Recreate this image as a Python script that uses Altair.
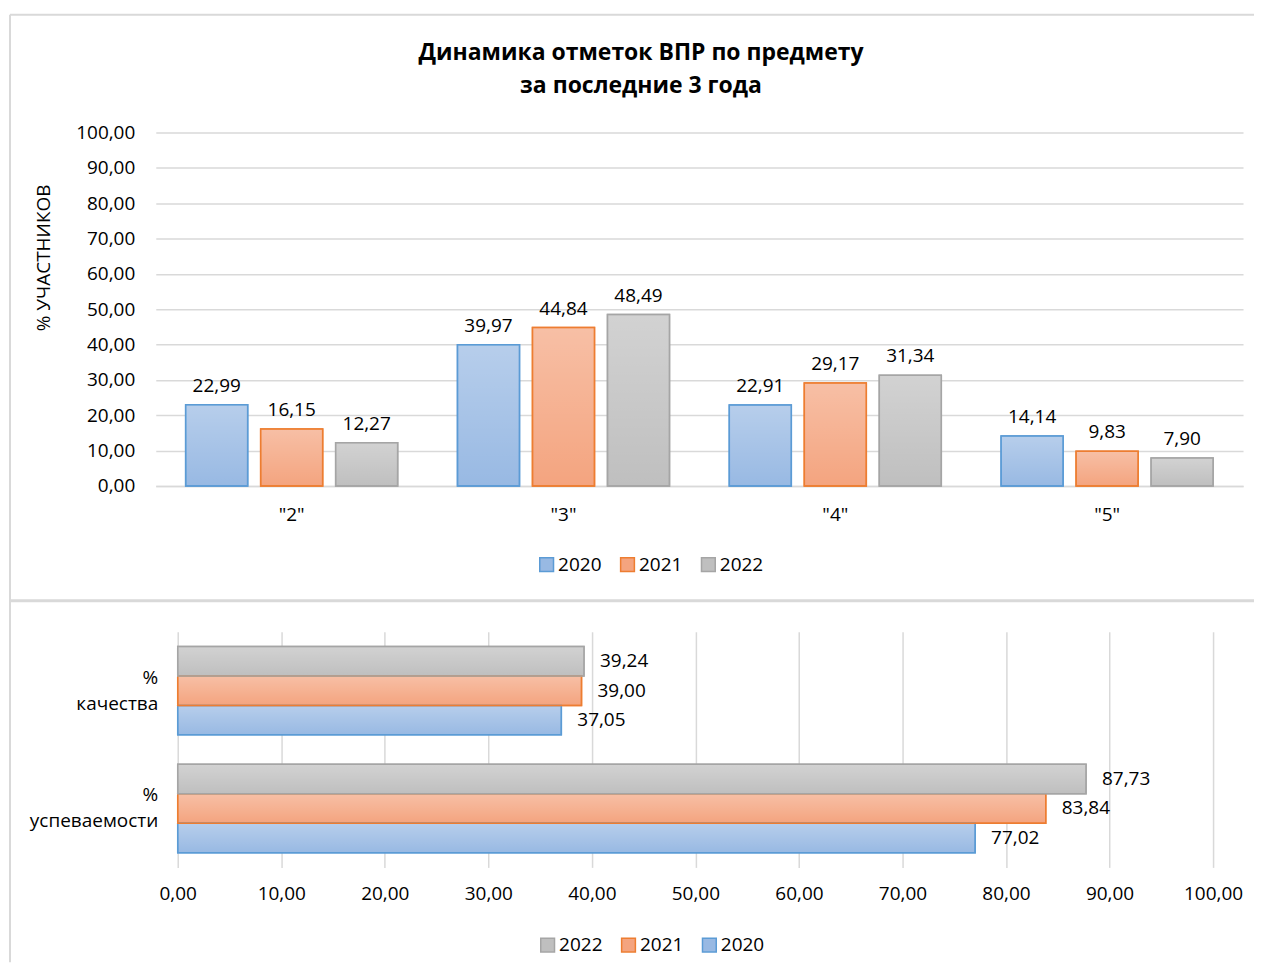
import altair as alt
import pandas as pd

# ---- data ----
grades = ['"2"', '"3"', '"4"', '"5"']
years = ['2020', '2021', '2022']
v2020 = [22.99, 39.97, 22.91, 14.14]
v2021 = [16.15, 44.84, 29.17, 9.83]
v2022 = [12.27, 48.49, 31.34, 7.90]

metrics = ['% качества', '% успеваемости']
m2020 = [37.05, 77.02]
m2021 = [39.00, 83.84]
m2022 = [39.24, 87.73]

title_lines = ['Динамика отметок ВПР по предмету', 'за последние 3 года']
y_title = '% УЧАСТНИКОВ'

fill_map = {'2020': '#98b9e3', '2021': '#f4a47f', '2022': '#bfbfbf'}
stroke_map = {'2020': '#5b9bd5', '2021': '#ed7d31', '2022': '#a5a5a5'}

FONT = 'Open Sans'
GRID = '#d9d9d9'
FS = 19


def fmt(v):
    return f"{v:.2f}".replace('.', ',')


rows = []
for yr, vals in zip(years, [v2020, v2021, v2022]):
    for g, v in zip(grades, vals):
        rows.append({'grade': g, 'year': yr, 'value': v, 'label': fmt(v)})
top_df = pd.DataFrame(rows)

rows = []
for yr, vals in zip(years, [m2020, m2021, m2022]):
    for m, v in zip(metrics, vals):
        rows.append({'metric': m, 'year': yr, 'value': v, 'label': fmt(v)})
bot_df = pd.DataFrame(rows)

label_expr = "replace(format(datum.value, '.2f'), '.', ',')"

sheen = alt.Gradient(
    gradient='linear', x1=0, y1=0, x2=0, y2=1,
    stops=[alt.GradientStop(color='rgba(255,255,255,0.30)', offset=0),
           alt.GradientStop(color='rgba(255,255,255,0)', offset=1)])


def legend(x, y):
    return alt.Legend(title=None, orient='none', legendX=x, legendY=y,
                      direction='horizontal', symbolType='square',
                      symbolSize=190, symbolStrokeWidth=1.5,
                      labelFontSize=FS, labelFont=FONT, labelColor='#000',
                      labelOffset=2, columnPadding=15, padding=0)


# ---- top chart ----
top_order = years
x_top = alt.X('grade:N', sort=grades,
              scale=alt.Scale(paddingInner=0.22, paddingOuter=0.11),
              axis=alt.Axis(title=None, labelAngle=0, labelFontSize=FS,
                            labelPadding=20, ticks=False, tickSize=0,
                            domainColor=GRID, domainWidth=1.5))
xo_top = alt.XOffset('year:N', sort=top_order,
                     scale=alt.Scale(paddingInner=0.173, paddingOuter=0))
y_top = alt.Y('value:Q', scale=alt.Scale(domain=[0, 100], nice=False),
              axis=alt.Axis(values=list(range(0, 101, 10)), labelExpr=label_expr,
                            labelFontSize=FS, labelPadding=21, ticks=False, tickSize=0,
                            domain=False, gridColor=GRID, gridWidth=1.5,
                            title=y_title, titleFontSize=19, titleFontWeight='normal',
                            titleX=-112, titleY=125, titleAngle=270,
                            titleBaseline='middle', titleAlign='center'))

fill_top = alt.Fill('year:N', sort=top_order,
                    scale=alt.Scale(domain=top_order, range=[fill_map[y] for y in top_order]),
                    legend=legend(382, 423))
stroke_top = alt.Stroke('year:N', sort=top_order,
                        scale=alt.Scale(domain=top_order, range=[stroke_map[y] for y in top_order]),
                        legend=legend(382, 423))

base_top = alt.Chart(top_df).encode(x=x_top, xOffset=xo_top, y=y_top)

top = alt.layer(
    base_top.mark_bar(strokeWidth=1.5).encode(fill=fill_top, stroke=stroke_top),
    base_top.mark_bar(fill=sheen, strokeWidth=0),
    base_top.mark_bar(fillOpacity=0, strokeWidth=1.5).encode(stroke=stroke_top),
    base_top.mark_text(baseline='bottom', dy=-9, fontSize=FS, font=FONT, color='#000').encode(text='label:N'),
).properties(
    width=1089, height=354,
    title=alt.TitleParams(title_lines, fontSize=23, fontWeight='bold', font=FONT,
                          anchor='middle', frame='bounds', lineHeight=33, offset=26,
                          color='#000', dx=2),
)

# ---- bottom chart ----
bot_order = ['2022', '2021', '2020']
y_bot = alt.Y('metric:N', sort=metrics,
              scale=alt.Scale(paddingInner=0.25, paddingOuter=0.125),
              axis=alt.Axis(title=None, labelExpr="split(datum.label, ' ')",
                            labelFontSize=FS, labelAlign='right', labelBaseline='middle',
                            labelPadding=-2, labelOffset=-13, ticks=False, tickSize=0,
                            domain=False, labelLineHeight=26))
yo_bot = alt.YOffset('year:N', sort=bot_order,
                     scale=alt.Scale(paddingInner=0, paddingOuter=0))
x_bot = alt.X('value:Q', scale=alt.Scale(domain=[0, 100], nice=False, range=[22, 1059]),
              axis=alt.Axis(values=list(range(0, 101, 10)), labelExpr=label_expr,
                            labelFontSize=FS, labelPadding=17, ticks=False, tickSize=0,
                            labelFlush=False, domain=False, gridColor=GRID, gridWidth=1.5,
                            title=None))

fill_bot = alt.Fill('year:N', sort=bot_order,
                    scale=alt.Scale(domain=bot_order, range=[fill_map[y] for y in bot_order]),
                    legend=legend(383, 304))
stroke_bot = alt.Stroke('year:N', sort=bot_order,
                        scale=alt.Scale(domain=bot_order, range=[stroke_map[y] for y in bot_order]),
                        legend=legend(383, 304))

base_bot = alt.Chart(bot_df).encode(y=y_bot, yOffset=yo_bot, x=x_bot)

# decorative chart-area frame (Excel style borders), drawn relative to the lower panel
frame_df = pd.DataFrame({'k': [0]})
frame = alt.Chart(frame_df)
frame_left = frame.mark_rule(color=GRID, strokeWidth=2).encode(
    x=alt.value(-146), y=alt.value(-618), y2=alt.value(331))
frame_top = frame.mark_rule(color=GRID, strokeWidth=2).encode(
    x=alt.value(-146), x2=alt.value(1100), y=alt.value(-618))
frame_sep = frame.mark_rule(color=GRID, strokeWidth=3).encode(
    x=alt.value(-146), x2=alt.value(1100), y=alt.value(-31))

bottom = alt.layer(
    frame_left, frame_top, frame_sep,
    base_bot.mark_bar(strokeWidth=1.5).encode(fill=fill_bot, stroke=stroke_bot),
    base_bot.mark_bar(fill=sheen, strokeWidth=0),
    base_bot.mark_bar(fillOpacity=0, strokeWidth=1.5).encode(stroke=stroke_bot),
    base_bot.mark_text(align='left', baseline='middle', dx=16, fontSize=FS, font=FONT, color='#000').encode(text='label:N'),
).properties(width=1059, height=236)

chart = alt.vconcat(top, bottom, spacing=146, bounds='flush').resolve_scale(
    fill='independent', stroke='independent', x='independent', y='independent'
).resolve_legend(
    fill='independent', stroke='independent'
).configure(
    font=FONT, padding={'left': 0, 'top': 5, 'right': 0, 'bottom': 0}
).configure_view(
    stroke=None
).configure_axis(
    labelFont=FONT, titleFont=FONT, labelColor='#000', titleColor='#000'
)

chart.save('out.html', embed_options={'renderer': 'svg', 'actions': False})
